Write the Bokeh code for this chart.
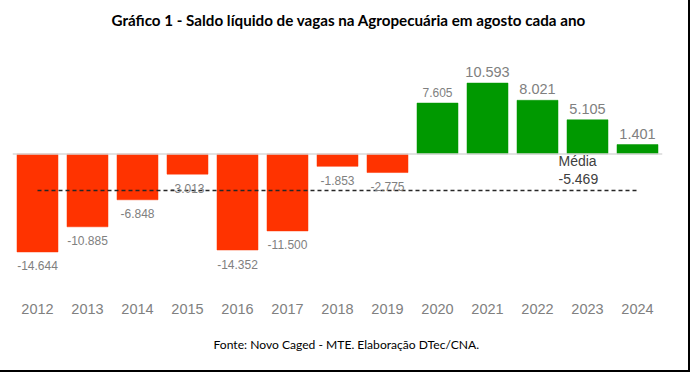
from bokeh.plotting import figure
from bokeh.models import FactorRange, Range1d, Span, Title, ColumnDataSource
from bokeh.core.properties import value
from bokeh.embed import file_html
from bokeh.resources import INLINE

# ---- data ----
years = ["2012", "2013", "2014", "2015", "2016", "2017", "2018",
         "2019", "2020", "2021", "2022", "2023", "2024"]
saldo = [-14644, -10885, -6848, -3013, -14352, -11500, -1853,
         -2775, 7605, 10593, 8021, 5105, 1401]
media = -5469

title_text = "Gráfico 1 - Saldo líquido de vagas na Agropecuária em agosto cada ano"
footer_text = "Fonte: Novo Caged - MTE. Elaboração DTec/CNA."

def fmt(v):
    return f"{v:,}".replace(",", ".")

RED = "#ff3300"
GREEN = "#009900"
big_labels = {"2021", "2022", "2023", "2024"}

colors = [GREEN if v > 0 else RED for v in saldo]
lab_size = ["14.5px" if y in big_labels else "12px" for y in years]

src = ColumnDataSource(dict(x=years, top=saldo, color=colors))
neg = ColumnDataSource(dict(x=[x for x, v in zip(years, saldo) if v < 0],
                            y=[v for v in saldo if v < 0],
                            label=[fmt(v) for v in saldo if v < 0],
                            size=[s for s, v in zip(lab_size, saldo) if v < 0]))
pos = ColumnDataSource(dict(x=[x for x, v in zip(years, saldo) if v > 0],
                            y=[v for v in saldo if v > 0],
                            label=[fmt(v) for v in saldo if v > 0],
                            size=[s for s, v in zip(lab_size, saldo) if v > 0]))

W, H = 690, 372
p = figure(x_range=FactorRange(*years), y_range=Range1d(-21000, 18000),
           width=W, height=H, output_backend="svg", toolbar_location=None,
           min_border_left=12, min_border_right=28, min_border_top=33,
           min_border_bottom=78, y_axis_location=None)
p.styles = {"border-right": "2px solid #000", "border-bottom": "2px solid #000"}
p.outline_line_color = None
p.grid.visible = False
p.background_fill_color = "white"
p.border_fill_color = "white"

p.title = Title(text=title_text, align="left", offset=99, text_font="Lato",
                text_font_style="bold", text_font_size="15.2px", text_color="#000",
                standoff=6, vertical_align="top")

p.xaxis.axis_line_color = None
p.xaxis.major_tick_line_color = None
p.xaxis.minor_tick_line_color = None
p.xaxis.major_label_text_font = "Liberation Sans"
p.xaxis.major_label_text_font_size = "14.5px"
p.xaxis.major_label_text_color = "#808080"
p.xaxis.major_label_standoff = 3

p.add_layout(Title(text=footer_text, align="left", offset=201, text_font="Lato",
                   text_font_style="normal", text_font_size="12.1px", text_color="#000",
                   standoff=37), "below")

p.add_layout(Span(location=0, dimension="width", line_color="#d9d9d9", line_width=1.5))

p.vbar(x="x", top="top", width=0.82, fill_color="color", line_color="color",
       line_alpha=0.5, source=src)

p.line(x=[years[0], years[-1]], y=[media, media], line_color="#262626",
       line_width=1.6, line_dash="4 3")

p.text(x="x", y="y", text="label", source=neg, text_align="center",
       text_baseline="middle", y_offset=14, text_font=value("Liberation Sans"),
       text_font_size="size", text_color="#808080")
p.text(x="x", y="y", text="label", source=pos, text_align="center",
       text_baseline="middle", y_offset=-11, text_font=value("Liberation Sans"),
       text_font_size="size", text_color="#808080")

p.text(x=[years[-2]], y=[media], text=["Média\n" + fmt(media)], text_align="left",
       text_baseline="middle", x_offset=-29, y_offset=-20.5, text_line_height=1.15,
       text_font=value("Liberation Sans"), text_font_size="14px", text_color="#404040")

open("out.html", "w").write(file_html(p, INLINE))
